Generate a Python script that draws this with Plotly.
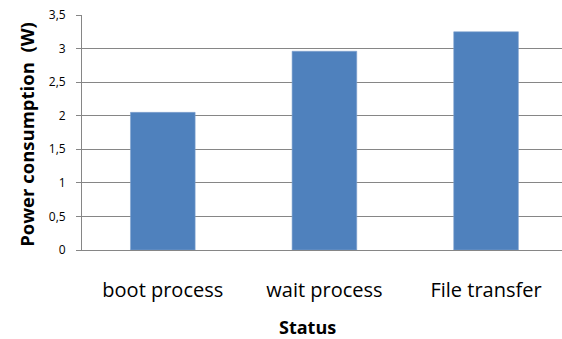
import plotly.graph_objects as go

# Power draw per device state
statuses = ["boot process", "wait process", "File transfer"]
power_w = [2.05, 2.96, 3.25]

y_ticks = [0, 0.5, 1, 1.5, 2, 2.5, 3, 3.5]
y_tick_text = ["0", "0,5", "1", "1,5", "2", "2,5", "3", "3,5"]

font_family = "Open Sans, Liberation Sans, sans-serif"

fig = go.Figure(
    go.Bar(
        x=statuses,
        y=power_w,
        width=0.40,
        marker=dict(color="#4F81BD", line=dict(color="#7FA1CF", width=0.6)),
    )
)

fig.update_layout(
    width=562,
    height=339,
    margin=dict(l=82, r=0, t=15, b=89),
    paper_bgcolor="white",
    plot_bgcolor="white",
    showlegend=False,
    font=dict(family=font_family, color="black"),
    xaxis=dict(
        range=[-0.5, 2.47],
        showgrid=False,
        showline=True,
        linecolor="#868686",
        linewidth=1,
        ticks="",
        ticklabelstandoff=22,
        tickfont=dict(size=20, family=font_family),
        fixedrange=True,
    ),
    yaxis=dict(
        range=[0, 3.5],
        tickvals=y_ticks,
        ticktext=y_tick_text,
        showgrid=True,
        gridcolor="#868686",
        gridwidth=1,
        showline=True,
        linecolor="#868686",
        linewidth=1,
        ticks="outside",
        ticklen=5,
        tickcolor="#868686",
        ticklabelstandoff=8,
        tickfont=dict(size=12, family=font_family),
        zeroline=False,
    ),
    annotations=[
        dict(
            text="<b>Power consumption  (W)</b>",
            xref="paper", yref="paper",
            x=-82 / 480 + 27 / 480, y=0.49,
            xanchor="center", yanchor="middle",
            textangle=-90, showarrow=False, borderpad=0,
            font=dict(size=18.5, family=font_family),
        ),
        dict(
            text="<b>Status</b>",
            xref="paper", yref="paper",
            x=(307 - 82) / 480, y=-(327 - 250) / 235,
            xanchor="center", yanchor="middle",
            showarrow=False, borderpad=0,
            font=dict(size=18, family=font_family),
        ),
    ],
)

fig.write_html("out.html")
